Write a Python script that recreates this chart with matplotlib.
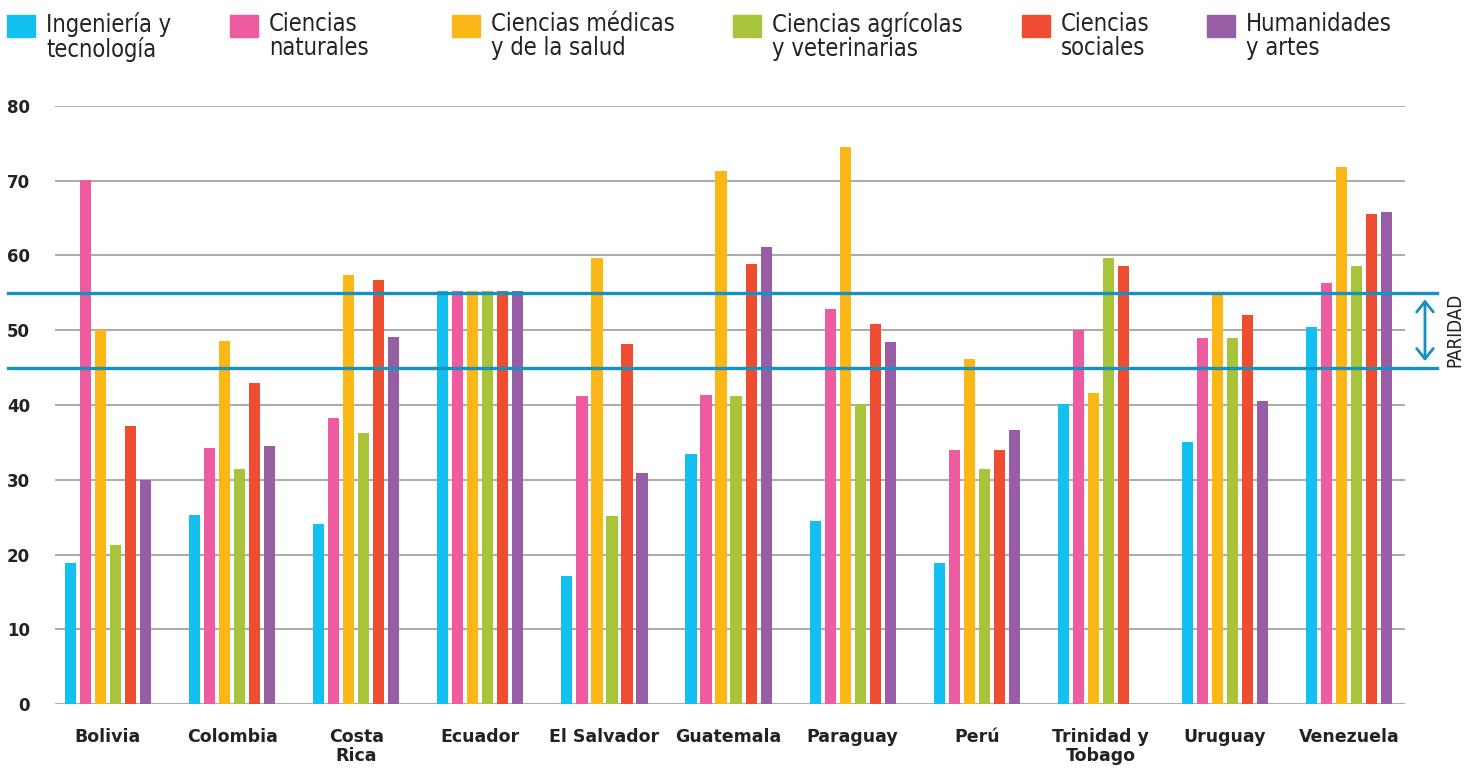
import numpy as np
import matplotlib
matplotlib.use('Agg')
import matplotlib.pyplot as plt
from matplotlib.patches import Rectangle
from matplotlib import font_manager

countries = ['Bolivia', 'Colombia', 'Costa\nRica', 'Ecuador', 'El Salvador', 'Guatemala',
             'Paraguay', 'Perú', 'Trinidad y\nTobago', 'Uruguay', 'Venezuela']

fields = ['Ingeniería y\ntecnología', 'Ciencias\nnaturales', 'Ciencias médicas\ny de la salud',
          'Ciencias agrícolas\ny veterinarias', 'Ciencias\nsociales', 'Humanidades\ny artes']

ingenieria = [18.9, 25.3, 24.1, 55.3, 17.1, 33.4, 24.5, 18.9, 40.1, 35.1, 50.5]
naturales = [70.1, 34.2, 38.3, 55.3, 41.2, 41.4, 52.8, 34.0, 50.1, 48.9, 56.3]
medicas = [50.1, 48.5, 57.4, 55.3, 59.7, 71.3, 74.5, 46.2, 41.6, 54.9, 71.9]
agricolas = [21.3, 31.4, 36.2, 55.3, 25.1, 41.2, 40.2, 31.5, 59.7, 48.9, 58.6]
sociales = [37.2, 43.0, 56.7, 55.3, 48.2, 58.9, 50.8, 34.0, 58.6, 52.0, 65.5]
humanidades = [30.0, 34.5, 49.1, 55.3, 30.9, 61.2, 48.4, 36.6, np.nan, 40.5, 65.8]

series = [ingenieria, naturales, medicas, agricolas, sociales, humanidades]
colors = ['#14C0F0', '#EF5BA1', '#FBB716', '#A8C43A', '#EE4D31', '#975EA6']

parity_low, parity_high = 45, 55
parity_color = '#1592C0'

# narrow font for legend if one is around
installed = {f.name for f in font_manager.fontManager.ttflist}
narrow = [f for f in ['Liberation Sans Narrow', 'DejaVu Sans Condensed'] if f in installed]
narrow_family = narrow + ['DejaVu Sans']

W, H = 1473, 770
fig = plt.figure(figsize=(W / 100, H / 100), dpi=100)
ax = fig.add_axes([55 / W, 1 - 704 / H, 1350 / W, 598 / H])

x = np.arange(len(countries))
step = 0.121
width = 0.09
for k, (vals, col) in enumerate(zip(series, colors)):
    ax.bar(x + (k - 2.5) * step, vals, width=width, color=col, zorder=3)

ax.set_xlim(-0.427, 10.45)
ax.set_ylim(0, 80)
ax.set_yticks(np.arange(0, 81, 10))
ax.yaxis.grid(True, color='#aaaaaa', lw=1.4, zorder=0)
for s in ax.spines.values():
    s.set_visible(False)
ax.tick_params(length=0)
ax.tick_params(axis='y', pad=18, labelsize=12, labelcolor='#222222')
ax.set_xticks(x)
ax.set_xticklabels(countries, fontsize=12.5, color='#222222', linespacing=1.1)
ax.tick_params(axis='x', pad=17)
for lab in ax.get_yticklabels() + ax.get_xticklabels():
    lab.set_fontweight('bold')

# parity band lines
for yv in (parity_low, parity_high):
    ax.axhline(yv, xmin=-0.0348, xmax=1.0237, color=parity_color, lw=2.4,
               clip_on=False, zorder=4)
ax.annotate('', xy=(1.0148, parity_low + 0.5), xytext=(1.0148, parity_high - 0.5),
            xycoords=('axes fraction', 'data'),
            arrowprops=dict(arrowstyle='<->,head_length=0.75,head_width=0.6',
                            color=parity_color, lw=2), annotation_clip=False)
ax.text(1.037, (parity_low + parity_high) / 2, 'PARIDAD', rotation=90,
        transform=ax.get_yaxis_transform(), ha='center', va='center',
        fontsize=13.5, color='#222222', family=narrow_family, fontstretch='condensed')

# legend built by hand
leg_x = [7, 230, 452, 733, 1022, 1207]
for lx, lab, col in zip(leg_x, fields, colors):
    fig.patches.append(Rectangle((lx / W, 1 - 37 / H), 28 / W, 22 / H,
                                 transform=fig.transFigure, color=col))
    fig.text((lx + 39) / W, 1 - 12 / H, lab, ha='left', va='top', fontsize=17,
             color='#222222', linespacing=1.0, fontstretch='condensed',
             family=narrow_family)

fig.savefig('out.png', dpi=100)
